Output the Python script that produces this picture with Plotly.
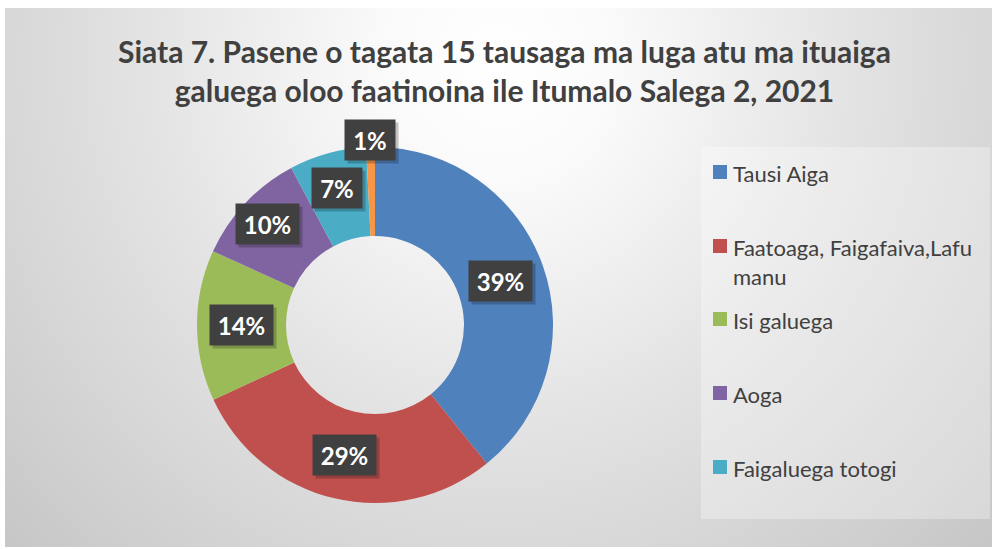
import math
import plotly.graph_objects as go

# ---------------- data ----------------
categories = ["Tausi Aiga", "Faatoaga, Faigafaiva,Lafu manu", "Isi galuega",
              "Aoga", "Faigaluega totogi", "Isi"]
legend_labels = ["Tausi Aiga", "Faatoaga, Faigafaiva,Lafu<br>manu", "Isi galuega",
                 "Aoga", "Faigaluega totogi"]
values = [39.2, 28.9, 13.7, 10.4, 7.0, 0.8]
colors = ["#4F81BD", "#C0504D", "#9BBB59", "#8064A2", "#4BACC6", "#F79646"]
title_lines = ["Siata 7. Pasene o tagata 15 tausaga ma luga atu ma ituaiga",
               "galuega oloo faatinoina ile Itumalo Salega 2, 2021"]

# ---------------- layout constants ----------------
W, H = 992, 549
cx, cy, R = 375, 325, 178          # donut centre / outer radius (px)
hole = 0.5
label_r = [0.75, 0.75, 0.75, 0.83, 0.80, 1.04]   # label distance as fraction of R
FONT = "Lato"

def px(x):
    return x / W

def py(y):
    return 1 - y / H

fig = go.Figure()

# background radial gradient (decorative)
fig.add_trace(go.Scatter(
    x=[-0.3, 1.3, 1.3, -0.3, -0.3], y=[-0.6, -0.6, 2.4, 2.4, -0.6],
    mode="lines", line=dict(width=0), fill="toself",
    fillgradient=dict(type="radial",
                      colorscale=[[0, "#ffffff"], [0.15, "#fafafa"], [0.45, "#e3e3e3"],
                                  [0.7, "#d2d2d2"], [0.9, "#c4c4c4"], [1, "#bdbdbd"]]),
    hoverinfo="skip", showlegend=False, xaxis="x", yaxis="y"))

fig.add_trace(go.Pie(
    labels=categories, values=values, hole=hole, sort=False, direction="clockwise",
    rotation=0, marker=dict(colors=colors, line=dict(width=0)),
    textinfo="none", showlegend=False, hoverinfo="label+percent",
    domain=dict(x=[px(cx - R), px(cx + R)], y=[py(cy + R), py(cy - R)])))

annotations = []
shapes = []

# data labels
total = sum(values)
cum = 0.0
for v, rf in zip(values, label_r):
    mid = (cum + v / 2) / total
    cum += v
    th = 2 * math.pi * mid
    lx = cx + rf * R * math.sin(th)
    ly = cy - rf * R * math.cos(th)
    txt = f"{round(v / total * 100)}%"
    bw = 50 if len(txt) <= 2 else 63
    # shadow
    annotations.append(dict(x=px(lx + 3), y=py(ly + 3), xref="paper", yref="paper",
                            xanchor="center", yanchor="middle",
                            text=" ", showarrow=False, width=bw, height=40,
                            bgcolor="rgba(0,0,0,0.22)", borderpad=0,
                            font=dict(size=24, family=FONT)))
    annotations.append(dict(x=px(lx), y=py(ly), xref="paper", yref="paper",
                            xanchor="center", yanchor="middle",
                            text=f"<b>{txt}</b>", showarrow=False, width=bw, height=40,
                            bgcolor="#404040", borderpad=0,
                            font=dict(size=24, family=FONT, color="white")))

# title
annotations.append(dict(x=px(504), y=py(70), xref="paper", yref="paper",
                        text="<b>" + "<br>".join(title_lines) + "</b>",
                        showarrow=False, xanchor="center", yanchor="middle",
                        font=dict(size=30, family=FONT, color="#404040")))

# legend box
shapes.append(dict(type="rect", xref="paper", yref="paper",
                   x0=px(701), x1=px(990), y0=py(519), y1=py(147),
                   fillcolor="rgba(255,255,255,0.3)", line=dict(width=0), layer="above"))
leg_y = [172, 246, 319, 393, 467]
for lab, c, yy in zip(legend_labels, colors, leg_y):
    shapes.append(dict(type="rect", xref="paper", yref="paper",
                       x0=px(713), x1=px(727), y0=py(yy + 7), y1=py(yy - 7),
                       fillcolor=c, line=dict(width=0), layer="above"))
    annotations.append(dict(x=px(731), y=py(yy - 14), xref="paper", yref="paper",
                            text=lab, showarrow=False, xanchor="left", yanchor="top",
                            align="left",
                            font=dict(size=22, family=FONT, color="#404040")))

fig.update_layout(
    width=W, height=H, margin=dict(l=0, r=0, t=0, b=0),
    paper_bgcolor="white", plot_bgcolor="rgba(0,0,0,0)",
    xaxis=dict(domain=[px(5), 1], range=[0, 1], visible=False, fixedrange=True),
    yaxis=dict(domain=[py(547), py(8)], range=[0, 1], visible=False, fixedrange=True),
    annotations=annotations, shapes=shapes, showlegend=False)

fig.write_html("out.html", config={"displayModeBar": False},
               post_script="document.body.style.margin='0px';")
